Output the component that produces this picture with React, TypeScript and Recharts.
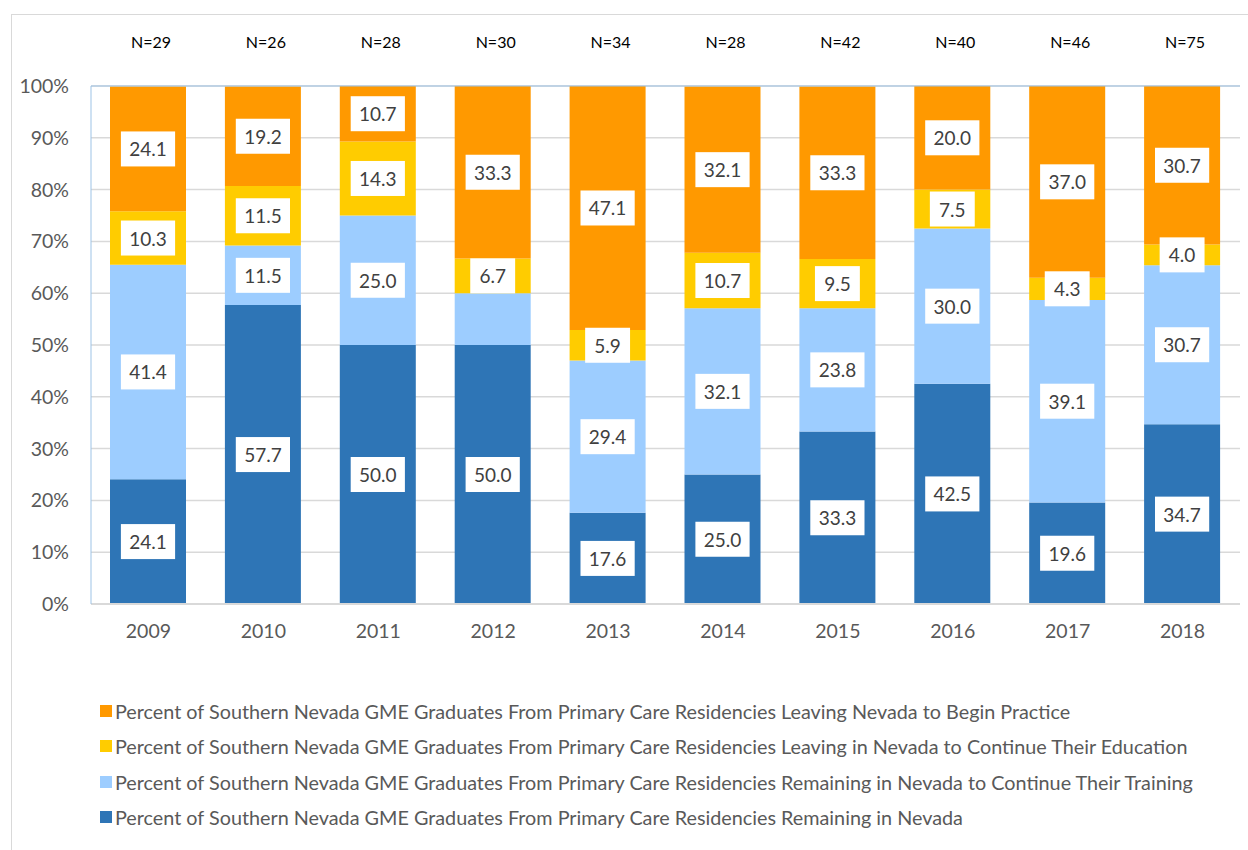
import { BarChart, Bar, XAxis, YAxis, CartesianGrid, LabelList, ReferenceLine } from 'recharts';

const years = ['2009', '2010', '2011', '2012', '2013', '2014', '2015', '2016', '2017', '2018'];
const sampleSizes = [29, 26, 28, 30, 34, 28, 42, 40, 46, 75];
const remaining = [24.1, 57.7, 50.0, 50.0, 17.6, 25.0, 33.3, 42.5, 19.6, 34.7];
const training = [41.4, 11.5, 25.0, 10.0, 29.4, 32.1, 23.8, 30.0, 39.1, 30.7];
const education = [10.3, 11.5, 14.3, 6.7, 5.9, 10.7, 9.5, 7.5, 4.3, 4.0];
const leaving = [24.1, 19.2, 10.7, 33.3, 47.1, 32.1, 33.3, 20.0, 37.0, 30.7];
// the 2012 "training" segment has no label in the source
const unlabeled = ['training-2012'];
const yTicks = [0, 10, 20, 30, 40, 50, 60, 70, 80, 90, 100];

const series = [
  { key: 'remaining', color: '#2E75B6', label: 'Percent of Southern Nevada GME Graduates From Primary Care Residencies Remaining in Nevada' },
  { key: 'training', color: '#9DCDFF', label: 'Percent of Southern Nevada GME Graduates From Primary Care Residencies Remaining in Nevada to Continue Their Training' },
  { key: 'education', color: '#FFCC00', label: 'Percent of Southern Nevada GME Graduates From Primary Care Residencies Leaving in Nevada to Continue Their Education' },
  { key: 'leaving', color: '#FF9900', label: 'Percent of Southern Nevada GME Graduates From Primary Care Residencies Leaving Nevada to Begin Practice' },
];

const data = years.map((year, i) => ({
  year,
  n: sampleSizes[i],
  remaining: remaining[i],
  training: training[i],
  education: education[i],
  leaving: leaving[i],
}));

const FONT = 'Lato, "Open Sans", sans-serif';
const TEXT = '#595959';

function boxLabel(seriesKey: string) {
  return (props: any) => {
    const { x, y, width, height, value, index } = props;
    if (value == null || unlabeled.includes(`${seriesKey}-${years[index]}`)) return null;
    const text = Number(value).toFixed(1);
    const w = text.length * 9.3 + 17;
    const h = 35;
    const cx = x + width / 2;
    const cy = y + height / 2;
    return (
      <g>
        <rect x={cx - w / 2} y={cy - h / 2} width={w} height={h} fill="#fff" />
        <text x={cx} y={cy} textAnchor="middle" dominantBaseline="central" fontSize={19} fontFamily={FONT} fill="#404040">
          {text}
        </text>
      </g>
    );
  };
}

const nLabel = (props: any) => {
  const { x, y, width, value } = props;
  return (
    <text x={x + width / 2 + 3} y={y - 45} textAnchor="middle" dominantBaseline="central" fontSize={16} fontFamily={FONT} fill="#000">
      {`N=${value}`}
    </text>
  );
};

export default function App() {
  return (
    <div style={{ position: 'absolute', left: 0, top: 0, width: 1248, height: 850, background: '#fff', fontFamily: FONT }}>
      <div style={{ position: 'absolute', left: 11, top: 14, width: 1250, height: 850, border: '1px solid #D9D9D9' }} />
      <div style={{ position: 'absolute', left: 0, top: 0 }}>
        <BarChart width={1248} height={664} data={data} margin={{ top: 86, right: 8, left: 21, bottom: 20 }} barSize={76}>
          <CartesianGrid vertical={false} stroke="#D9D9D9" strokeWidth={1.5} />
          <XAxis
            dataKey="year"
            tickLine={false}
            tickSize={0}
            tickMargin={20}
            height={40}
            axisLine={{ stroke: '#D9D9D9', strokeWidth: 2 }}
            tick={{ fontSize: 19.5, fill: TEXT, fontFamily: FONT }}
          />
          <YAxis
            domain={[0, 100]}
            ticks={yTicks}
            allowDataOverflow
            width={70}
            tickLine={false}
            tickSize={0}
            tickMargin={22}
            tickFormatter={(v) => `${v}%`}
            axisLine={{ stroke: '#9DC3E6' }}
            tick={{ fontSize: 19.5, fill: TEXT, fontFamily: FONT }}
          />
          <YAxis yAxisId="frame" orientation="right" domain={[0, 100]} width={0} tick={false} tickLine={false} axisLine={{ stroke: '#9DC3E6' }} />
          <ReferenceLine y={100} stroke="#9DC3E6" />
          {series.map((s) => (
            <Bar key={s.key} dataKey={s.key} stackId="a" fill={s.color} isAnimationActive={false}>
              <LabelList dataKey={s.key} content={boxLabel(s.key)} />
              {s.key === 'leaving' && <LabelList dataKey="n" content={nLabel} />}
            </Bar>
          ))}
        </BarChart>
      </div>
      <div style={{ position: 'absolute', left: 100, top: 693 }}>
        {[...series].reverse().map((s) => (
          <div key={s.key} style={{ display: 'flex', alignItems: 'center', height: 35.5 }}>
            <span style={{ display: 'inline-block', width: 12, height: 12, background: s.color, marginRight: 3 }} />
            <span style={{ fontSize: 19.8, color: TEXT, whiteSpace: 'nowrap' }}>{s.label}</span>
          </div>
        ))}
      </div>
    </div>
  );
}
